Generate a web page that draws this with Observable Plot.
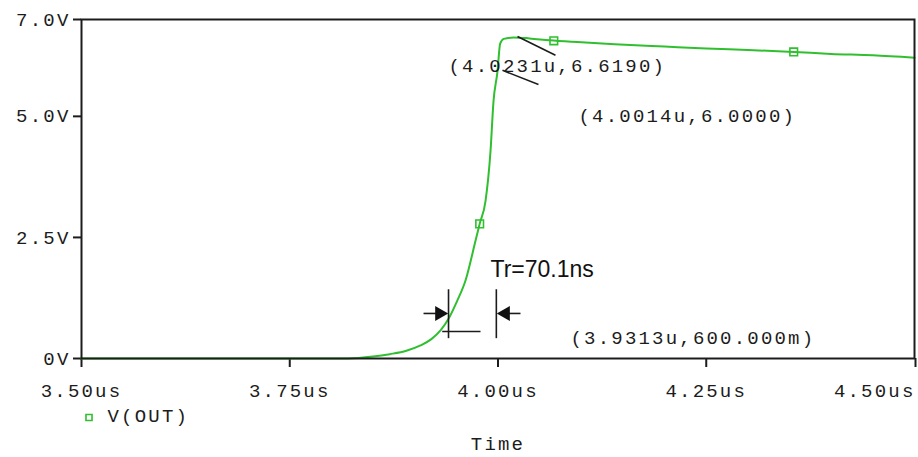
<!DOCTYPE html>
<html><head><meta charset="utf-8">
<script src="https://cdn.jsdelivr.net/npm/d3@7"></script>
<script src="https://cdn.jsdelivr.net/npm/@observablehq/plot@0.6"></script>
<style>
body{margin:0;background:#fff}
#chart svg text{letter-spacing:2.2px}
#chart svg text.sans, #chart svg g.sans text{letter-spacing:0}
</style></head><body><div id="chart"></div>
<script>
// ---- data ----
const times = [3.50, 3.82, 3.85, 3.87, 3.89, 3.907, 3.92, 3.931, 3.9406, 3.951, 3.961, 3.973, 3.978, 3.985, 3.991, 3.9946, 3.9994, 4.0026, 4.007, 4.019, 4.038, 4.062, 4.10, 4.14, 4.20, 4.25, 4.30, 4.355, 4.40, 4.45, 4.50];
const volts = [0, 0, 0.04, 0.09, 0.16, 0.27, 0.40, 0.58, 0.82, 1.19, 1.61, 2.43, 2.78, 3.25, 4.28, 5.31, 5.93, 6.50, 6.60, 6.63, 6.61, 6.57, 6.53, 6.49, 6.44, 6.40, 6.37, 6.33, 6.29, 6.26, 6.21];
const markerTimes = [3.978, 4.067, 4.355];
const markerVolts = [2.78, 6.56, 6.33];
const yTicks = [0, 2.5, 5, 7];
const yTickLabels = ["0V", "2.5V", "5.0V", "7.0V"];
const xTicks = [3.50, 3.75, 4.00, 4.25, 4.50];
const xTickLabels = ["3.50us", "3.75us", "4.00us", "4.25us", "4.50us"];
const seriesName = "V(OUT)";
const axisTitle = "Time";
const cursorTexts = ["(4.0231u,6.6190)", "(4.0014u,6.0000)", "(3.9313u,600.000m)"];
const riseLabel = "Tr=70.1ns";

// ---- annotation anchors (data space) ----
const cursorAnchorT = [3.9406, 4.0966, 4.087];
const cursorAnchorV = [6.05, 5.0, 0.43];
const leaders = [
  {x1: 4.0234, y1: 6.65, x2: 4.069, y2: 6.26},
  {x1: 4.0054, y1: 5.95, x2: 4.0486, y2: 5.66},
  {x1: 3.9406, y1: 1.43, x2: 3.9406, y2: 0.42},
  {x1: 3.998, y1: 1.43, x2: 3.998, y2: 0.42},
  {x1: 3.933, y1: 0.556, x2: 3.979, y2: 0.556},
  {x1: 3.9106, y1: 0.93, x2: 3.930, y2: 0.93},
  {x1: 4.009, y1: 0.93, x2: 4.027, y2: 0.93}
];
const headRight = [{x: 3.9394, y: 0.93}];
const headLeft = [{x: 3.9994, y: 0.93}];

const green = "#2fbf2f";
const ink = "#1c1c1c";
const idx = times.map((_, i) => i);
const cur = cursorTexts.map((t, i) => ({t, x: cursorAnchorT[i], y: cursorAnchorV[i]}));
const mk = markerTimes.map((t, i) => ({x: t, y: markerVolts[i]}));
const xFmt = d => xTickLabels[xTicks.indexOf(d)];

const chart = Plot.plot({
  width: 918,
  height: 457,
  marginTop: 19,
  marginLeft: 81,
  marginRight: 4,
  marginBottom: 99,
  style: {fontFamily: "'Liberation Mono', 'DejaVu Sans Mono', monospace", fontSize: "19px", color: ink, background: "#fff"},
  x: {domain: [3.5, 4.5]},
  y: {domain: [0, 7]},
  marks: [
    Plot.axisY(yTicks, {tickSize: 8, tickPadding: 3, tickFormat: d => yTickLabels[yTicks.indexOf(d)], label: null, stroke: ink, strokeWidth: 2, fill: ink}),
    Plot.axisX(xTicks.slice(0, -1), {tickSize: 9, tickPadding: 16, tickFormat: xFmt, label: null, stroke: ink, strokeWidth: 2, fill: ink}),
    Plot.axisX(xTicks.slice(-1), {tickSize: 9, tickPadding: 16, tickFormat: xFmt, label: null, textAnchor: "end", dx: 1, stroke: ink, strokeWidth: 2, fill: ink}),
    Plot.line(idx, {x: i => times[i], y: i => volts[i], stroke: green, strokeWidth: 2, curve: "monotone-x"}),
    Plot.dot(mk, {x: "x", y: "y", symbol: "square", r: 4.3, stroke: green, strokeWidth: 1.6, fill: "none"}),
    Plot.frame({stroke: ink, strokeWidth: 2}),
    Plot.link(leaders, {x1: "x1", y1: "y1", x2: "x2", y2: "y2", stroke: ink, strokeWidth: 1.6}),
    Plot.dot(headRight, {x: "x", y: "y", symbol: "triangle", r: 5.6, rotate: 90, dx: -8, fill: "#111", stroke: "none"}),
    Plot.dot(headLeft, {x: "x", y: "y", symbol: "triangle", r: 5.6, rotate: -90, dx: 8, fill: "#111", stroke: "none"}),
    Plot.text(cur, {x: "x", y: "y", text: "t", textAnchor: "start", fill: ink}),
    Plot.text([riseLabel], {x: 3.991, y: 1.83, text: d => d, textAnchor: "start", fontFamily: "'Liberation Sans', Arial, sans-serif", fontSize: 23, fill: "#111", className: "sans"}),
    Plot.dot([seriesName], {frameAnchor: "bottom-left", dx: 7.5, dy: 59, symbol: "square", r: 3.4, stroke: green, strokeWidth: 1.6, fill: "none"}),
    Plot.text([seriesName], {frameAnchor: "bottom-left", lineAnchor: "middle", dx: 26, dy: 57, text: d => d, textAnchor: "start", fill: ink}),
    Plot.text([axisTitle], {frameAnchor: "bottom", lineAnchor: "middle", dy: 85, text: d => d, fill: ink})
  ]
});
document.getElementById("chart").appendChild(chart);
</script></body></html>
